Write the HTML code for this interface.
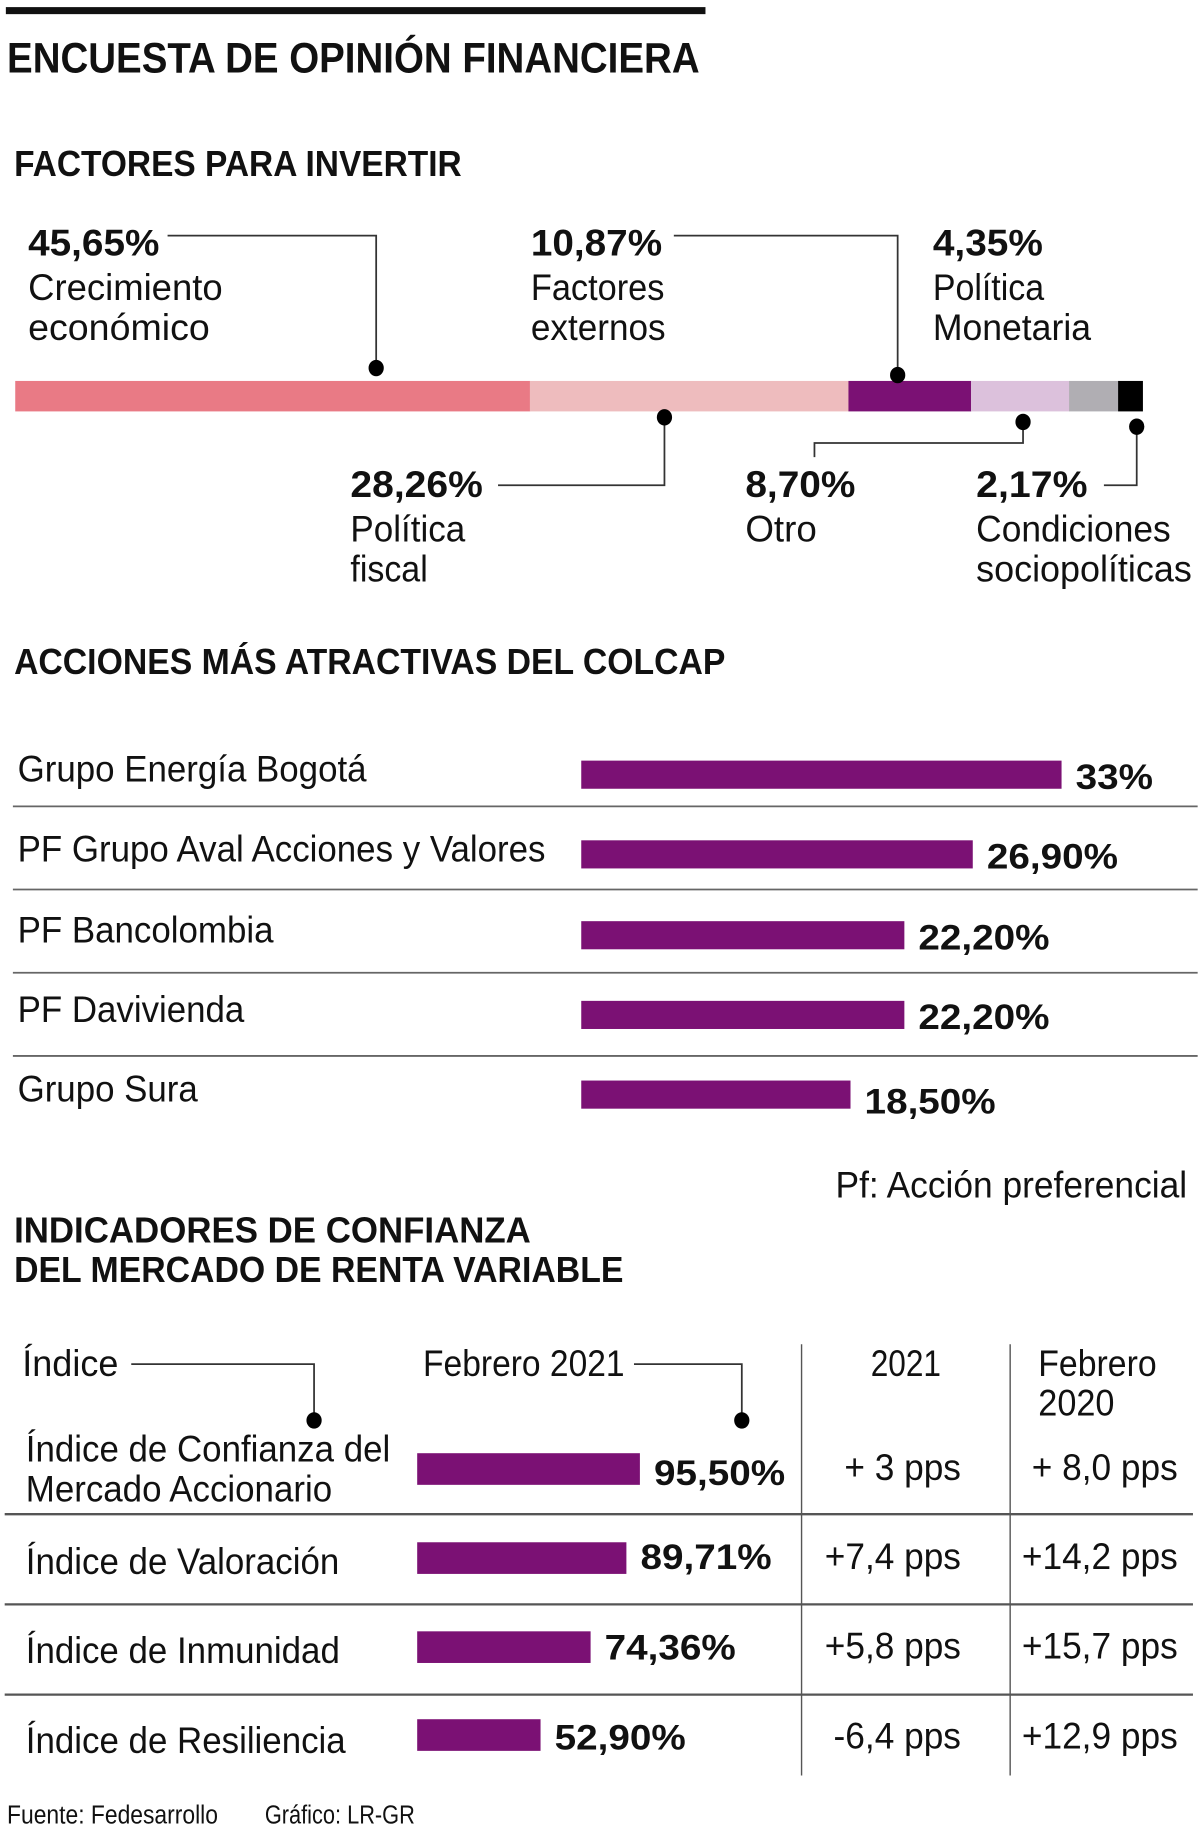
<!DOCTYPE html>
<html><head><meta charset="utf-8"><style>
html,body{margin:0;padding:0;background:#fff;width:1200px;height:1840px;overflow:hidden}
svg{display:block}
text{font-family:"Liberation Sans",sans-serif;fill:#111}
.b{font-weight:bold}
</style></head><body>
<svg id="chart" width="1200" height="1840" viewBox="0 0 1024 1570" xmlns="http://www.w3.org/2000/svg">
<rect x="5" y="6" width="597" height="6" fill="#111"/>
<text class="b" x="6" y="62" font-size="36" textLength="591" lengthAdjust="spacingAndGlyphs">ENCUESTA DE OPINIÓN FINANCIERA</text>
<text class="b" x="12" y="150" font-size="31" textLength="382" lengthAdjust="spacingAndGlyphs">FACTORES PARA INVERTIR</text>

<g id="stack"></g>

<g fill="none" stroke="#333" stroke-width="1.5">
<polyline points="143,201 321,201 321,312"/>
<polyline points="575,201 766,201 766,318"/>
<polyline points="567,358 567,414 425,414"/>
<polyline points="873,362 873,378 695,378 695,390"/>
<polyline points="970,366 970,414 942,414"/>
</g>
<g fill="#000">
<ellipse cx="321" cy="314" rx="6.5" ry="7"/>
<ellipse cx="766" cy="320" rx="6.5" ry="7"/>
<ellipse cx="567" cy="356" rx="6.5" ry="7"/>
<ellipse cx="873" cy="360" rx="6.5" ry="7"/>
<ellipse cx="970" cy="364" rx="6.5" ry="7"/>
</g>
<text class="b" x="24" y="218" font-size="32" textLength="112" lengthAdjust="spacingAndGlyphs">45,65%</text>
<text x="24" y="256" font-size="32" textLength="166" lengthAdjust="spacingAndGlyphs">Crecimiento</text>
<text x="24" y="290" font-size="32" textLength="155" lengthAdjust="spacingAndGlyphs">económico</text>
<text class="b" x="453" y="218" font-size="32" textLength="112" lengthAdjust="spacingAndGlyphs">10,87%</text>
<text x="453" y="256" font-size="32" textLength="114" lengthAdjust="spacingAndGlyphs">Factores</text>
<text x="453" y="290" font-size="32" textLength="115" lengthAdjust="spacingAndGlyphs">externos</text>
<text class="b" x="796" y="218" font-size="32" textLength="94" lengthAdjust="spacingAndGlyphs">4,35%</text>
<text x="796" y="256" font-size="32" textLength="95" lengthAdjust="spacingAndGlyphs">Política</text>
<text x="796" y="290" font-size="32" textLength="135" lengthAdjust="spacingAndGlyphs">Monetaria</text>
<text class="b" x="299" y="424" font-size="32" textLength="113" lengthAdjust="spacingAndGlyphs">28,26%</text>
<text x="299" y="462" font-size="32" textLength="98" lengthAdjust="spacingAndGlyphs">Política</text>
<text x="299" y="496" font-size="32" textLength="66" lengthAdjust="spacingAndGlyphs">fiscal</text>
<text class="b" x="636" y="424" font-size="32" textLength="94" lengthAdjust="spacingAndGlyphs">8,70%</text>
<text x="636" y="462" font-size="32" textLength="61" lengthAdjust="spacingAndGlyphs">Otro</text>
<text class="b" x="833" y="424" font-size="32" textLength="95" lengthAdjust="spacingAndGlyphs">2,17%</text>
<text x="833" y="462" font-size="32" textLength="166" lengthAdjust="spacingAndGlyphs">Condiciones</text>
<text x="833" y="496" font-size="32" textLength="184" lengthAdjust="spacingAndGlyphs">sociopolíticas</text>

<text class="b" x="12" y="575" font-size="31" textLength="607" lengthAdjust="spacingAndGlyphs">ACCIONES MÁS ATRACTIVAS DEL COLCAP</text>
<g id="colcap"></g>
<text x="1013" y="1022" font-size="32" text-anchor="end" textLength="300" lengthAdjust="spacingAndGlyphs">Pf: Acción preferencial</text>

<text class="b" x="12" y="1060" font-size="31" textLength="441" lengthAdjust="spacingAndGlyphs">INDICADORES DE CONFIANZA</text>
<text class="b" x="12" y="1094" font-size="31" textLength="520" lengthAdjust="spacingAndGlyphs">DEL MERCADO DE RENTA VARIABLE</text>

<text x="19" y="1174" font-size="32" textLength="82" lengthAdjust="spacingAndGlyphs">Índice</text>
<text x="361" y="1174" font-size="32" textLength="172" lengthAdjust="spacingAndGlyphs">Febrero 2021</text>
<text x="773" y="1174" font-size="32" text-anchor="middle" textLength="60" lengthAdjust="spacingAndGlyphs">2021</text>
<text x="886" y="1174" font-size="32" textLength="101" lengthAdjust="spacingAndGlyphs">Febrero</text>
<text x="886" y="1208" font-size="32" textLength="65" lengthAdjust="spacingAndGlyphs">2020</text>
<g fill="none" stroke="#333" stroke-width="1.5">
<polyline points="112,1164 268,1164 268,1210"/>
<polyline points="541,1164 633,1164 633,1210"/>
</g>
<ellipse cx="268" cy="1212" rx="6.5" ry="7"/>
<ellipse cx="633" cy="1212" rx="6.5" ry="7"/>
<line x1="684" y1="1147" x2="684" y2="1515" stroke="#555" stroke-width="1.2"/>
<line x1="862" y1="1147" x2="862" y2="1515" stroke="#555" stroke-width="1.2"/>
<g id="ind"></g>

<text x="6" y="1556" font-size="22" textLength="180" lengthAdjust="spacingAndGlyphs">Fuente: Fedesarrollo</text>
<text x="226" y="1556" font-size="22" textLength="128" lengthAdjust="spacingAndGlyphs">Gráfico: LR-GR</text>
</svg>
<script>
const factorNames = ["Crecimiento económico","Política fiscal","Factores externos","Otro","Política Monetaria","Condiciones sociopolíticas"];
const factorValues = [45.65, 28.26, 10.87, 8.70, 4.35, 2.17];
const factorColors = ["#e97a85","#eebcbe","#7b1174","#dcc1dc","#b0aeb3","#000000"];

const colcapNames = ["Grupo Energía Bogotá","PF Grupo Aval Acciones y Valores","PF Bancolombia","PF Davivienda","Grupo Sura"];
const colcapValues = [33, 26.9, 22.2, 22.2, 18.5];
const colcapLabels = ["33%","26,90%","22,20%","22,20%","18,50%"];

const indNames = [["Índice de Confianza del","Mercado Accionario"],["Índice de Valoración"],["Índice de Inmunidad"],["Índice de Resiliencia"]];
const indValues = [95.5, 89.71, 74.36, 52.9];
const indLabels = ["95,50%","89,71%","74,36%","52,90%"];
const ind2021 = ["+ 3 pps","+7,4 pps","+5,8 pps","-6,4 pps"];
const ind2020 = ["+ 8,0 pps","+14,2 pps","+15,7 pps","+12,9 pps"];

const NS="http://www.w3.org/2000/svg";
function mk(tag, attrs, parent, txt){const e=document.createElementNS(NS,tag);for(const k in attrs)e.setAttribute(k,attrs[k]);if(txt!==undefined)e.textContent=txt;parent.appendChild(e);return e;}
function fit(t,f){const w=t.getComputedTextLength();t.setAttribute('textLength',(w*f).toFixed(1));t.setAttribute('lengthAdjust','spacingAndGlyphs');}
const LIGHT=0.93, BOLD=1.1;

// stacked bar
const total = factorValues.reduce((a,b)=>a+b,0);
const sx = v => v/total*962;
let cum=0;
const stack=document.getElementById('stack');
factorValues.forEach((v,i)=>{
  const r=mk('rect',{x:13+sx(cum),y:325,width:sx(v)+0.3,height:26,fill:factorColors[i]},stack);
  
  
  cum+=v;
});

// colcap bars
const cs = v => v*12.42;
const colcap=document.getElementById('colcap');
const rowY=[649,717,786,854,922];
const sepY=[688,759,830,901];
colcapValues.forEach((v,i)=>{
  const y=rowY[i];
  const t=mk('text',{x:15,y:y+18,'font-size':32},colcap,colcapNames[i]);
  
  
  fit(t,LIGHT);
  const r=mk('rect',{x:496,y:y,width:cs(v),height:24,fill:'#7b1174'},colcap);
  
  
  const vt=mk('text',{x:496+cs(v)+12,y:y+24+(i===4?4:0),'font-size':30,'font-weight':'bold'},colcap,colcapLabels[i]);
  
  
  fit(vt,BOLD);
  if(i<4){
    const l=mk('line',{x1:11,x2:1022,y1:sepY[i],y2:sepY[i],stroke:'#666','stroke-width':1.5},colcap);
    
    
  }
});

// indicators
const is = v => v*1.99;
const ind=document.getElementById('ind');
const barY=[1240,1316,1392,1467];
const textY=[1263,1339,1415,1492];
const valY=[1267,1339,1416,1493];
const indSepY=[1292,1369,1446];
indValues.forEach((v,i)=>{
  const y=barY[i];
  const names=indNames[i];
  names.forEach((n,j)=>{
    const ty = names.length>1 ? 1247+j*34 : textY[i]+4;
    const t=mk('text',{x:22,y:ty,'font-size':32},ind,n);
    
    
    fit(t,LIGHT);
  });
  const r=mk('rect',{x:356,y:y,width:is(v),height:27,fill:'#7b1174'},ind);
  
  
  const vt=mk('text',{x:356+is(v)+12,y:valY[i],'font-size':30,'font-weight':'bold'},ind,indLabels[i]);
  
  
  fit(vt,BOLD);
  const a=mk('text',{x:820,y:textY[i],'font-size':32,'text-anchor':'end'},ind,ind2021[i]);
  
  
  fit(a,0.94);
  const b=mk('text',{x:1005,y:textY[i],'font-size':32,'text-anchor':'end'},ind,ind2020[i]);
  
  
  fit(b,0.94);
  if(i<3){
    const l=mk('line',{x1:4,x2:1018,y1:indSepY[i],y2:indSepY[i],stroke:'#555','stroke-width':2},ind);
    
    
  }
});
</script>
</body></html>
